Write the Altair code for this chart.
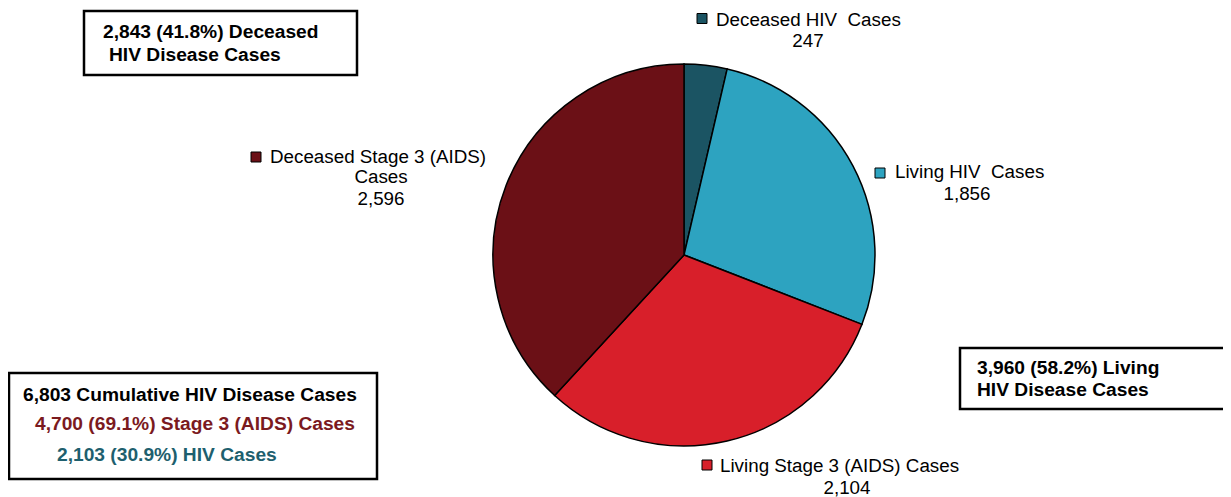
import altair as alt
import pandas as pd

# ---- data ----
categories = ["Deceased HIV Cases", "Living HIV Cases",
              "Living Stage 3 (AIDS) Cases", "Deceased Stage 3 (AIDS) Cases"]
values = [247, 1856, 2104, 2596]
colors = ["#1B5463", "#2DA3C0", "#D81F2A", "#6B1016"]

total = sum(values)
deceased = values[0] + values[3]
living = values[1] + values[2]
stage3 = values[2] + values[3]
hiv = values[0] + values[1]


def pct(v):
    return f"{100 * v / total:.1f}%"


FONT = "Liberation Sans"

df = pd.DataFrame({"category": categories, "value": values,
                   "order": list(range(len(categories)))})

color_scale = alt.Scale(domain=categories, range=colors)

pie = alt.Chart(df).mark_arc(stroke="black", strokeWidth=1.5, radius=191).encode(
    theta=alt.Theta("value:Q", stack=True),
    order=alt.Order("order:Q"),
    color=alt.Color("category:N", scale=color_scale, legend=None),
    x=alt.value(676), y=alt.value(247),
)

R = 18.8


def txt(s, x, y, align="left", size=R, weight="normal", color="black"):
    return alt.Chart(pd.DataFrame({"t": [s]})).mark_text(
        align=align, baseline="alphabetic", font=FONT, fontSize=size,
        fontWeight=weight, color=color,
    ).encode(text="t:N", x=alt.value(x), y=alt.value(y))


def square(cat, x, y):
    return alt.Chart(pd.DataFrame({"category": [cat]})).mark_square(
        size=100, opacity=1, filled=True, stroke="black", strokeWidth=1,
    ).encode(color=alt.Color("category:N", scale=color_scale, legend=None),
             x=alt.value(x), y=alt.value(y))


def box(x, y, x2, y2):
    return alt.Chart(pd.DataFrame({"b": [0]})).mark_rect(
        fill="white", stroke="black", strokeWidth=2.5,
    ).encode(x=alt.value(x), x2=alt.value(x2), y=alt.value(y), y2=alt.value(y2))


NB = "\u00a0"
layers = [pie]

# slice labels
layers += [
    square(categories[0], 694, 10.5),
    txt(f"Deceased HIV{NB} Cases", 708, 18),
    txt(f"{values[0]:,}", 800, 39, align="center"),
    square(categories[1], 872, 165),
    txt(f"Living HIV{NB} Cases", 887, 170),
    txt(f"{values[1]:,}", 959, 192, align="center"),
    square(categories[2], 699, 457),
    txt("Living Stage 3 (AIDS) Cases", 712, 464),
    txt(f"{values[2]:,}", 839, 486, align="center"),
    square(categories[3], 248, 149),
    txt("Deceased Stage 3 (AIDS)", 262, 155),
    txt("Cases", 373, 175, align="center"),
    txt(f"{values[3]:,}", 373, 197, align="center"),
]

B = 19.2
# boxes
layers += [
    box(76, 3, 349, 67),
    txt(f"{deceased:,} ({pct(deceased)}) Deceased", 95, 30, size=B, weight="bold"),
    txt("HIV Disease Cases", 101, 53, size=B, weight="bold"),
    box(1, 365, 369, 471),
    txt(f"{total:,} Cumulative HIV Disease Cases", 15, 393, size=B, weight="bold"),
    txt(f"{stage3:,} ({pct(stage3)}) Stage 3 (AIDS) Cases", 27, 422, size=B,
        weight="bold", color="#7B1A1E"),
    txt(f"{hiv:,} ({pct(hiv)}) HIV Cases", 49, 453, size=B, weight="bold",
        color="#1E5F6E"),
    box(952, 340, 1218, 401),
    txt(f"{living:,} ({pct(living)}) Living", 969, 366, size=B, weight="bold"),
    txt("HIV Disease Cases", 969, 388, size=B, weight="bold"),
]

chart = alt.layer(*layers).properties(
    width=1215, height=489, padding=0,
    autosize=alt.AutoSizeParams(type="none"),
).configure_view(stroke=None)

chart.save("out.html", embed_options={"renderer": "svg", "actions": False})
